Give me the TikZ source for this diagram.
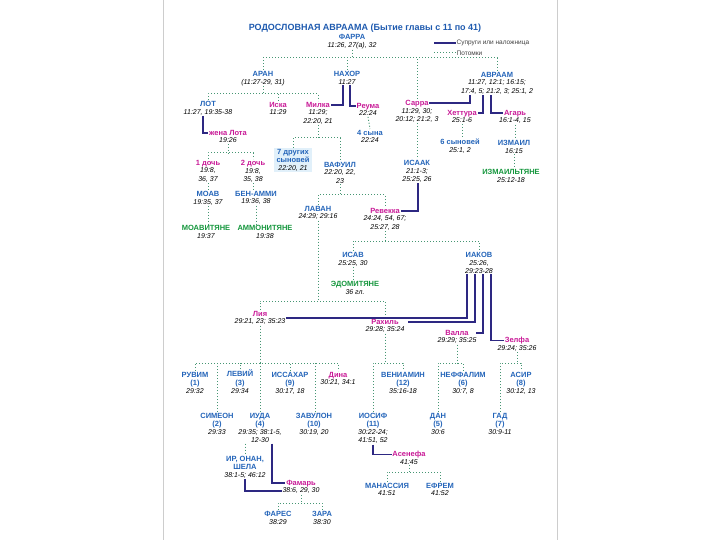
\documentclass[tikz,border=0pt]{standalone}
\usepackage{fontspec}
\setmainfont{Liberation Sans}
\usepackage{tikz}
\usetikzlibrary{positioning,backgrounds}
\definecolor{manblue}{RGB}{35,100,185}
\definecolor{womanpink}{RGB}{200,25,150}
\definecolor{folkgreen}{RGB}{20,150,60}
\definecolor{titleblue}{RGB}{30,90,175}
\definecolor{wedblue}{RGB}{45,40,130}
\definecolor{kingreen}{RGB}{70,150,115}
\definecolor{paleblue}{RGB}{225,240,250}
\definecolor{framegray}{RGB}{205,205,205}
\newcommand{\namefont}{\fontsize{7.5}{8.3}\selectfont\bfseries}
\newcommand{\reffont}{\fontsize{7}{8.4}\selectfont\itshape}

\begin{document}
\begin{tikzpicture}[x=1pt, y=-1pt,
  man/.style={anchor=north, font=\namefont, text=manblue, align=center, inner sep=0.7pt, text depth=1.2pt},
  woman/.style={man, text=womanpink},
  folk/.style={man, text=folkgreen},
  ref/.style={font=\reffont, align=center, inner sep=0.7pt},
  key/.style={font=\fontsize{6.5}{7.5}\selectfont, text=black!75, anchor=west, inner sep=0.5pt},
  wed/.style={draw=wedblue, line width=1.4pt},
  kin/.style={draw=kingreen, dotted, line width=1pt}]
  \useasboundingbox (0,0) rectangle (720,540);
  \draw[framegray] (163,0) -- (163,540);
  \draw[framegray] (557,0) -- (557,540);

  \node[font=\fontsize{9}{10}\selectfont\bfseries, text=titleblue] (title) at (365,28) {РОДОСЛОВНАЯ АВРААМА (Бытие главы с 11 по 41)};

  % key
  \coordinate (wedA) at (434,43);
  \node[key] (wedkey) at (456,43) {Супруги или наложница};
  \draw[wed] (wedA) -- (wedkey.west);
  \coordinate (kinA) at (434,53);
  \node[key] (kinkey) at (456,53) {Потомки};
  \draw[kin] (kinA) -- (kinkey.west);

  % Farra and his children
  \node[man] (farra) at (352,33) {ФАРРА};
  \node[ref, below=0pt of farra] (farrar) {11:26, 27(а), 32};
  \node[man] (aran) at (263,70) {АРАН};
  \node[ref, below=0pt of aran] (aranr) {(11:27-29, 31)};
  \node[man] (nahor) at (347,70) {НАХОР};
  \node[ref, below=0pt of nahor] (nahorr) {11:27};
  \node[man] (avraam) at (497,71) {АВРААМ};
  \node[ref, below=0pt of avraam] (avraamr) {11:27, 12:1; 16:15;\\17:4, 5; 21:2, 3; 25:1, 2};

  \node[man] (lot) at (208,100) {ЛОТ};
  \node[ref, below=0pt of lot] (lotr) {11:27, 19:35-38};
  \node[woman] (iska) at (278,101) {Иска};
  \node[ref, below=0pt of iska] (iskar) {11:29};
  \node[woman] (milka) at (318,101) {Милка};
  \node[ref, below=0pt of milka] (milkar) {11:29;\\22:20, 21};
  \node[woman] (reuma) at (368,102) {Реума};
  \node[ref, below=0pt of reuma] (reumar) {22:24};
  \node[woman] (sarra) at (417,99) {Сарра};
  \node[ref, below=0pt of sarra] (sarrar) {11:29, 30;\\20:12; 21:2, 3};
  \node[woman] (hettura) at (462,109) {Хеттура};
  \node[ref, below=0pt of hettura] (hetturar) {25:1-6};
  \node[woman] (agar) at (515,109) {Агарь};
  \node[ref, below=0pt of agar] (agarr) {16:1-4, 15};

  \node[woman] (lotwife) at (228,129) {жена Лота};
  \node[ref, below=0pt of lotwife] (lotwifer) {19:26};
  \node[man] (sons4) at (370,129) {4 сына};
  \node[ref, below=0pt of sons4] (sons4r) {22:24};
  \node[man] (other7) at (293,148) {7 других\\сыновей};
  \node[ref, below=0pt of other7] (other7r) {22:20, 21};
  \node[man] (vafuil) at (340,161) {ВАФУИЛ};
  \node[ref, below=0pt of vafuil] (vafuilr) {22:20, 22,\\23};
  \node[man] (sons6) at (460,138) {6 сыновей};
  \node[ref, below=0pt of sons6] (sons6r) {25:1, 2};
  \node[man] (izmail) at (514,139) {ИЗМАИЛ};
  \node[ref, below=0pt of izmail] (izmailr) {16:15};
  \node[folk] (izmailt) at (511,168) {ИЗМАИЛЬТЯНЕ};
  \node[ref, below=0pt of izmailt] (izmailtr) {25:12-18};
  \node[man] (isaak) at (417,159) {ИСААК};
  \node[ref, below=0pt of isaak] (isaakr) {21:1-3;\\25:25, 26};

  \node[woman] (d1) at (208,159) {1 дочь};
  \node[ref, below=0pt of d1] (d1r) {19:8,\\36, 37};
  \node[woman] (d2) at (253,159) {2 дочь};
  \node[ref, below=0pt of d2] (d2r) {19:8,\\35, 38};
  \node[man] (moav) at (208,190) {МОАВ};
  \node[ref, below=0pt of moav] (moavr) {19:35, 37};
  \node[man] (benammi) at (256,190) {БЕН-АММИ};
  \node[ref, below=0pt of benammi] (benammir) {19:36, 38};
  \node[folk] (moavt) at (206,224) {МОАВИТЯНЕ};
  \node[ref, below=0pt of moavt] (moavtr) {19:37};
  \node[folk] (ammont) at (265,224) {АММОНИТЯНЕ};
  \node[ref, below=0pt of ammont] (ammontr) {19:38};

  \node[man] (laban) at (318,205) {ЛАВАН};
  \node[ref, below=0pt of laban] (labanr) {24:29; 29:16};
  \node[woman] (revekka) at (385,207) {Ревекка};
  \node[ref, below=0pt of revekka] (revekkar) {24:24, 54, 67;\\25:27, 28};
  \node[man] (isav) at (353,251) {ИСАВ};
  \node[ref, below=0pt of isav] (isavr) {25:25, 30};
  \node[man] (iakov) at (479,251) {ИАКОВ};
  \node[ref, below=0pt of iakov] (iakovr) {25:26,\\29:23-28};
  \node[folk] (edom) at (355,280) {ЭДОМИТЯНЕ};
  \node[ref, below=0pt of edom] (edomr) {36 гл.};

  % wives of Iakov
  \node[woman] (liya) at (260,310) {Лия};
  \node[ref, below=0pt of liya] (liyar) {29:21, 23; 35:23};
  \node[woman] (rahil) at (385,318) {Рахиль};
  \node[ref, below=0pt of rahil] (rahilr) {29:28; 35:24};
  \node[woman] (valla) at (457,329) {Валла};
  \node[ref, below=0pt of valla] (vallar) {29:29; 35:25};
  \node[woman] (zelfa) at (517,336) {Зелфа};
  \node[ref, below=0pt of zelfa] (zelfar) {29:24; 35:26};

  % twelve sons and Dina
  \node[man] (ruvim) at (195,371) {РУВИМ\\(1)};
  \node[ref, below=0pt of ruvim] (ruvimr) {29:32};
  \node[man] (levi) at (240,369.3) {ЛЕВИЙ\\(3)};
  \node[ref, below=0pt of levi] (levir) {29:34};
  \node[man] (issahar) at (290,371) {ИССАХАР\\(9)};
  \node[ref, below=0pt of issahar] (issaharr) {30:17, 18};
  \node[woman] (dina) at (338,371) {Дина};
  \node[ref, below=0pt of dina] (dinar) {30:21, 34:1};
  \node[man] (simeon) at (217,412) {СИМЕОН\\(2)};
  \node[ref, below=0pt of simeon] (simeonr) {29:33};
  \node[man] (iuda) at (260,412) {ИУДА\\(4)};
  \node[ref, below=0pt of iuda] (iudar) {29:35; 38:1-5,\\12-30};
  \node[man] (zavulon) at (314,412) {ЗАВУЛОН\\(10)};
  \node[ref, below=0pt of zavulon] (zavulonr) {30:19, 20};
  \node[man] (veniamin) at (403,371) {ВЕНИАМИН\\(12)};
  \node[ref, below=0pt of veniamin] (veniaminr) {35:16-18};
  \node[man] (iosif) at (373,412) {ИОСИФ\\(11)};
  \node[ref, below=0pt of iosif] (iosifr) {30:22-24;\\41:51, 52};
  \node[man] (neffalim) at (463,371) {НЕФФАЛИМ\\(6)};
  \node[ref, below=0pt of neffalim] (neffalimr) {30:7, 8};
  \node[man] (dan) at (438,412) {ДАН\\(5)};
  \node[ref, below=0pt of dan] (danr) {30:6};
  \node[man] (asir) at (521,371) {АСИР\\(8)};
  \node[ref, below=0pt of asir] (asirr) {30:12, 13};
  \node[man] (gad) at (500,412) {ГАД\\(7)};
  \node[ref, below=0pt of gad] (gadr) {30:9-11};

  \node[man] (iros) at (245,455) {ИР, ОНАН,\\ШЕЛА};
  \node[ref, below=0pt of iros] (irosr) {38:1-5; 46:12};
  \node[woman] (famar) at (301,479) {Фамарь};
  \node[ref, below=0pt of famar] (famarr) {38:6, 29, 30};
  \node[man] (fares) at (278,510) {ФАРЕС};
  \node[ref, below=0pt of fares] (faresr) {38:29};
  \node[man] (zara) at (322,510) {ЗАРА};
  \node[ref, below=0pt of zara] (zarar) {38:30};
  \node[woman] (asenefa) at (409,450) {Асенефа};
  \node[ref, below=0pt of asenefa] (asenefar) {41:45};
  \node[man] (manassia) at (387,482) {МАНАССИЯ};
  \node[ref, below=0pt of manassia] (manassiar) {41:51};
  \node[man] (efrem) at (440,482) {ЕФРЕМ};
  \node[ref, below=0pt of efrem] (efremr) {41:52};

  \begin{scope}[on background layer]
    \fill[paleblue] ([xshift=-2pt]other7.north west) rectangle ([xshift=2pt]other7.east |- other7r.south);
  \end{scope}

  % bars of the dotted descent lines
  \coordinate (farrabar) at (0,58);
  \coordinate (aranbar) at (0,94);
  \coordinate (milkabar) at (0,138);
  \coordinate (lotbar) at (0,153);
  \coordinate (vafuilbar) at (0,195);
  \coordinate (revekkabar) at (0,241);
  \coordinate (labanbar) at (0,301);
  \coordinate (sonsbar) at (0,363);
  \coordinate (famarbar) at (0,503);
  \coordinate (asenefabar) at (0,472);

  \draw[kin] (farrar.south) -- (farrar.south |- farrabar);
  \draw[kin] (aran.north) |- (avraam.north |- farrabar) -- (avraam.north);
  \draw[kin] (nahor.north) -- (nahor.north |- farrabar);
  \draw[kin] (sarra.north) -- (sarra.north |- farrabar);

  \draw[kin] (aranr.south) -- (aranr.south |- aranbar);
  \draw[kin] (lot.north) |- (milka.north |- aranbar) -- (milka.north);
  \draw[kin] (iska.north) -- (iska.north |- aranbar);

  \draw[kin] (milkar.south) -- (milkar.south |- milkabar);
  \draw[kin] (other7.north) |- (vafuil.north |- milkabar) -- (vafuil.north);
  \draw[kin] (reumar.south) -- (sons4.north);

  \draw[kin] (lotwifer.south) -- (lotwifer.south |- lotbar);
  \draw[kin] (d1.north) |- (d2.north |- lotbar) -- (d2.north);
  \draw[kin] (d1r.south) -- (moav.north);
  \draw[kin] (d2r.south) -- (d2r.south |- benammi.north);
  \draw[kin] (moavr.south) -- (moavr.south |- moavt.north);
  \draw[kin] (benammir.south) -- (benammir.south |- ammont.north);

  \draw[kin] (hetturar.south) -- (hetturar.south |- sons6.north);
  \draw[kin] (agarr.south) -- (agarr.south |- izmail.north);
  \draw[kin] (izmailr.south) -- (izmailr.south |- izmailt.north);
  \draw[kin] (sarrar.south) -- (isaak.north);

  \draw[kin] (vafuilr.south) -- (vafuilr.south |- vafuilbar);
  \draw[kin] (laban.north) |- (revekka.north |- vafuilbar) -- (revekka.north);

  \draw[kin] (revekkar.south) -- (revekkar.south |- revekkabar);
  \draw[kin] (isav.north) |- (iakov.north |- revekkabar) -- (iakov.north);
  \draw[kin] (isavr.south) -- (isavr.south |- edom.north);

  \draw[kin] (labanr.south) -- (labanr.south |- labanbar);
  \draw[kin] (liya.north) |- (rahil.north |- labanbar) -- (rahil.north);

  \draw[kin] (liyar.south) -- (liyar.south |- sonsbar);
  \draw[kin] (ruvim.north) |- (dina.north |- sonsbar) -- (dina.north);
  \foreach \son in {levi, issahar, simeon, iuda}
    \draw[kin] (\son.north) -- (\son.north |- sonsbar);
  \draw[kin] ([xshift=1pt]zavulon.north) -- ([xshift=1pt]zavulon.north |- sonsbar);

  \draw[kin] (rahilr.south) -- (rahilr.south |- sonsbar);
  \draw[kin] (iosif.north) |- (veniamin.north |- sonsbar) -- (veniamin.north);
  \draw[kin] (vallar.south) -- (vallar.south |- sonsbar);
  \draw[kin] (dan.north) |- (neffalim.north |- sonsbar) -- (neffalim.north);
  \draw[kin] (zelfar.south) -- (zelfar.south |- sonsbar);
  \draw[kin] (gad.north) |- (asir.north |- sonsbar) -- (asir.north);

  \draw[kin] (iros.north |- iudar.south) -- (iros.north);
  \draw[kin] (famarr.south) -- (famarr.south |- famarbar);
  \draw[kin] (fares.north) |- (zara.north |- famarbar) -- (zara.north);
  \draw[kin] (asenefar.south) -- (asenefar.south |- asenefabar);
  \draw[kin] (manassia.north) |- (efrem.north |- asenefabar) -- (efrem.north);

  % spouses and concubines
  \draw[wed] ([xshift=-4pt]nahorr.south) |- (milka.east);
  \draw[wed] ([xshift=3pt]nahorr.south) |- (reuma.west);
  \draw[wed] ([xshift=-27pt]avraamr.south) |- (sarra.east);
  \draw[wed] ([xshift=-14pt]avraamr.south) |- (hettura.east);
  \draw[wed] ([xshift=-6pt]avraamr.south) |- (agar.west);
  \draw[wed] ([xshift=-5pt]lotr.south) |- (lotwife.west);
  \draw[wed] ([xshift=1pt]isaakr.south) |- (revekka.east);
  \draw[wed] ([xshift=-12pt]iakovr.south) |- (liyar.north east);
  \draw[wed] ([xshift=-4pt]iakovr.south) |- ([xshift=8pt]rahil.east);
  \draw[wed] ([xshift=4pt]iakovr.south) |- ([xshift=6pt]valla.east);
  \draw[wed] ([xshift=12pt]iakovr.south) |- (zelfa.west);
  \draw[wed] ([xshift=12pt]iudar.south) |- (famar.west);
  \draw[wed] (irosr.south) |- (famarr.west);
  \draw[wed] (iosifr.south) |- (asenefa.west);
\end{tikzpicture}
\end{document}
